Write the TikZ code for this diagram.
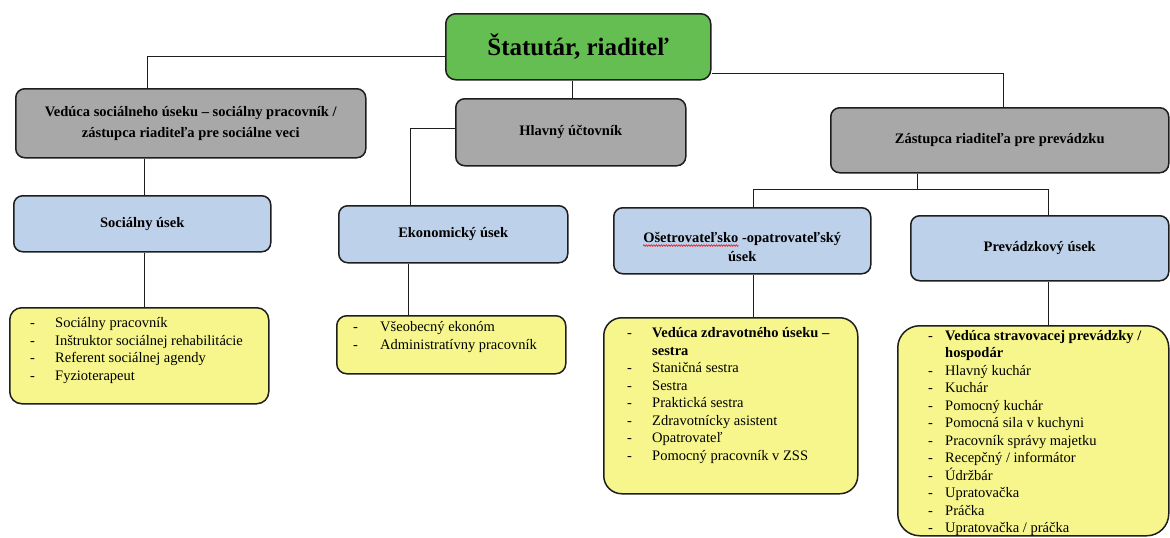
\documentclass[tikz,border=0pt]{standalone}
\usepackage{fontspec}
\setmainfont{Liberation Serif}
\usetikzlibrary{decorations.pathmorphing}
\definecolor{boxgreen}{RGB}{100,190,82}
\definecolor{boxgrey}{RGB}{168,168,168}
\definecolor{boxblue}{RGB}{189,210,234}
\definecolor{boxyellow}{RGB}{246,246,140}
\definecolor{edgecol}{RGB}{30,30,30}
\newcommand{\itm}[2][25pt]{\makebox[#1][l]{-}#2}
\begin{document}
\begin{tikzpicture}[x=1pt,y=-1pt,
  box/.style={draw=edgecol, line width=1.5pt, inner sep=0pt, anchor=north west, align=center,
    font=\fontsize{14.5}{21}\selectfont\bfseries},
  greybox/.style={box, fill=boxgrey, rounded corners=9pt},
  bluebox/.style={box, fill=boxblue, rounded corners=9pt},
  ybox/.style={draw=edgecol, line width=1.5pt, fill=boxyellow, anchor=north west, inner sep=0pt},
  ytext/.style={anchor=north west, inner sep=0pt, align=left, font=\fontsize{14.5}{17.5}\selectfont},
  btext/.style={inner sep=0pt, font=\fontsize{14.5}{21}\selectfont\bfseries},
  conn/.style={draw=edgecol, line width=1.2pt}]
\fill[white] (0,0) rectangle (1170,538);
\useasboundingbox (0,0) rectangle (1170,538);

% top level
\node[box, fill=boxgreen, rounded corners=10pt, minimum width=265pt, minimum height=66pt,
  font=\fontsize{25}{30}\selectfont\bfseries] (g) at (445,13) {Štatutár, riaditeľ};

% grey level
\node[greybox, minimum width=350pt, minimum height=69pt] (lg) at (15,88)
  {Vedúca sociálneho úseku – sociálny pracovník /\\zástupca riaditeľa pre sociálne veci};
\node[greybox, minimum width=230pt, minimum height=67pt] (mg) at (455,98) {Hlavný účtovník};
\node[greybox, minimum width=338pt, minimum height=65pt] (rg) at (830,107) {Zástupca riaditeľa pre prevádzku};

% blue level
\node[bluebox, minimum width=257pt, minimum height=56pt] (b1) at (13,195) {Sociálny úsek};
\node[bluebox, minimum width=229pt, minimum height=57pt] (b2) at (338,205) {Ekonomický úsek};
\node[bluebox, minimum width=257pt, minimum height=66pt] (b3) at (613,207) {};
\node[bluebox, minimum width=258pt, minimum height=65pt] (b4) at (910,215) {Prevádzkový úsek};

\node[btext, anchor=base] (b3l1) at ([yshift=-2pt]b3.center) {Ošetrovateľsko -opatrovateľský};
\node[btext, anchor=base west] (b3w) at (b3l1.base west) {\phantom{Ošetrovateľsko}};
\node[btext, anchor=base] (b3l2) at ([yshift=-19pt]b3l1.base) {úsek};
\draw[red, line width=0.6pt, decorate, decoration={snake, segment length=2.5pt, amplitude=0.8pt}]
  ([yshift=-2.8pt]b3w.base west) -- ([yshift=-2.8pt]b3w.base east);

% yellow level
\node[ybox, rounded corners=12pt, minimum width=259pt, minimum height=96pt] (y1) at (9,307) {};
\node[ybox, rounded corners=10pt, minimum width=229pt, minimum height=58pt] (y2) at (336,315) {};
\node[ybox, rounded corners=18pt, minimum width=254pt, minimum height=176pt] (y3) at (603,317) {};
\node[ybox, rounded corners=22pt, minimum width=271pt, minimum height=210pt] (y4) at (897,325) {};

\node[ytext] (t1) at (30,317.5) {\itm{Sociálny pracovník}\\\itm{Inštruktor sociálnej rehabilitácie}\\
  \itm{Referent sociálnej agendy}\\\itm{Fyzioterapeut}};
\node[ytext] (t2) at (353,321.5) {\itm[27pt]{Všeobecný ekonóm}\\\itm[27pt]{Administratívny pracovník}};
\node[ytext] (t3) at (627,327.5) {\itm{\textbf{Vedúca zdravotného úseku –}}\\\hspace*{25pt}\textbf{sestra}\\
  \itm{Staničná sestra}\\\itm{Sestra}\\\itm{Praktická sestra}\\\itm{Zdravotnícky asistent}\\
  \itm{Opatrovateľ}\\\itm{Pomocný pracovník v ZSS}};
\node[ytext] (t4) at (928,330) {\itm[17pt]{\textbf{Vedúca stravovacej prevádzky /}}\\\hspace*{17pt}\textbf{hospodár}\\
  \itm[17pt]{Hlavný kuchár}\\\itm[17pt]{Kuchár}\\\itm[17pt]{Pomocný kuchár}\\\itm[17pt]{Pomocná sila v kuchyni}\\
  \itm[17pt]{Pracovník správy majetku}\\\itm[17pt]{Recepčný / informátor}\\\itm[17pt]{Údržbár}\\
  \itm[17pt]{Upratovačka}\\\itm[17pt]{Práčka}\\\itm[17pt]{Upratovačka / práčka}};

% connectors
\draw[conn] ([yshift=-10pt]g.west) -| ([xshift=-43pt]lg.north);
\draw[conn] ([xshift=-5.5pt]g.south) -- ([xshift=-5.5pt]g.south |- mg.north);
\draw[conn] ([yshift=-27pt]g.east) -| ([xshift=4pt]rg.north);
\draw[conn] ([xshift=-46pt]lg.south) -- ([xshift=-46pt]lg.south |- b1.north);
\draw[conn] ([yshift=3.5pt]mg.west) -| ([xshift=-42.5pt]b2.north);
\coordinate (bar) at ([xshift=-82pt,yshift=-16pt]rg.south);
\coordinate (b3t) at ([xshift=11.5pt]b3.north);
\coordinate (b4t) at ([xshift=8.5pt]b4.north);
\draw[conn] ([xshift=-82pt]rg.south) -- (bar);
\draw[conn] (b3t) |- (b4t |- bar) -- (b4t);
\draw[conn] ([xshift=2.5pt]b1.south) -- ([xshift=2.5pt]b1.south |- y1.north);
\draw[conn] ([xshift=-44.5pt]b2.south) -- ([xshift=-44.5pt]b2.south |- y2.north);
\draw[conn] ([xshift=11.5pt]b3.south) -- ([xshift=11.5pt]b3.south |- y3.north);
\draw[conn] ([xshift=9pt]b4.south) -- ([xshift=9pt]b4.south |- y4.north);
\end{tikzpicture}
\end{document}
